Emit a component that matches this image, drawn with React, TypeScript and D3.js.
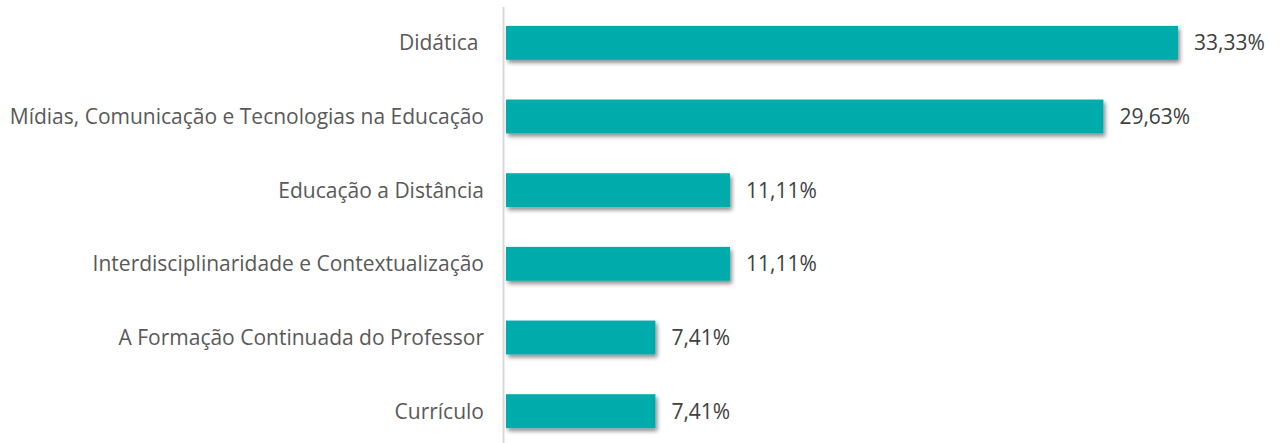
import React from "react";
import * as d3 from "d3";

const categories = [
  "Didática ",
  "Mídias, Comunicação e Tecnologias na Educação",
  "Educação a Distância",
  "Interdisciplinaridade e Contextualização",
  "A Formação Continuada do Professor",
  "Currículo",
];
const values = [33.33, 29.63, 11.11, 11.11, 7.41, 7.41];
const valueLabels = ["33,33%", "29,63%", "11,11%", "11,11%", "7,41%", "7,41%"];

const W = 1284;
const H = 443;
const FONT = "Open Sans, Noto Sans, sans-serif";

export default function App() {
  const x = d3.scaleLinear().domain([0, 33.33]).range([506, 1178]);
  const y = d3
    .scaleBand<string>()
    .domain(categories)
    .range([6, 448])
    .paddingInner(0.54)
    .paddingOuter(0.27);
  const bh = y.bandwidth();
  return (
    <svg
      width={W}
      height={H}
      style={{ position: "absolute", left: 0, top: 0, background: "#fff" }}
    >
      <defs>
        <filter id="sh" x="-5%" y="-30%" width="115%" height="180%">
          <feGaussianBlur in="SourceAlpha" stdDeviation="2" />
          <feOffset dx="2" dy="3" result="b" />
          <feComponentTransfer>
            <feFuncA type="linear" slope="0.45" />
          </feComponentTransfer>
          <feMerge>
            <feMergeNode />
            <feMergeNode in="SourceGraphic" />
          </feMerge>
        </filter>
      </defs>
      <line x1={503.5} x2={503.5} y1={7} y2={443} stroke="#d9d9d9" strokeWidth={2} />
      {categories.map((c, i) => {
        const yy = y(c)!;
        return (
          <g key={c}>
            <rect
              x={x(0)}
              y={yy}
              width={x(values[i]) - x(0)}
              height={bh}
              fill="#02abab"
              filter="url(#sh)"
            />
            <text
              x={484}
              y={yy + bh / 2}
              dy="0.36em"
              textAnchor="end"
              fontFamily={FONT}
              fontSize={21}
              fill="#595959"
              style={{ whiteSpace: "pre" }}
            >
              {c}
            </text>
            <text
              x={x(values[i]) + 16}
              y={yy + bh / 2}
              dy="0.36em"
              fontFamily={FONT}
              fontSize={21}
              fill="#404040"
            >
              {valueLabels[i]}
            </text>
          </g>
        );
      })}
    </svg>
  );
}
